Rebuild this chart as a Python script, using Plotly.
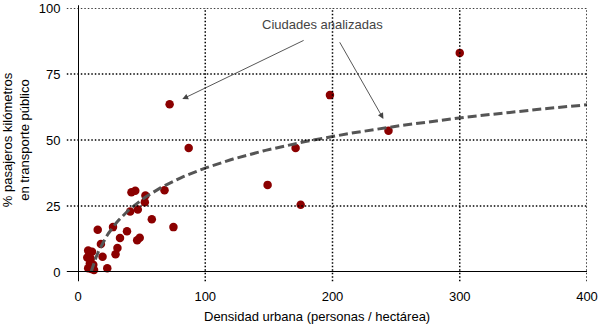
import numpy as np
import plotly.graph_objects as go

# Urban density (persons / hectare) and share of passenger-km on public transport (%)
density = [300, 198, 72, 244, 87, 171, 149, 175,
           42, 45, 53, 68, 52.5, 47, 41, 58, 75, 27.5, 15.5, 38.5,
           33, 48.5, 46.5, 18, 31, 29.5, 8, 11, 7.3, 10, 19.3,
           9.3, 12, 10.5, 12.6, 8, 23]
transit_share = [83, 67, 63.5, 53.5, 47, 47, 33, 25.5,
                 30.2, 30.8, 29, 31, 26.4, 23.7, 22.9, 20, 17, 17, 16, 15.4,
                 12.9, 13, 12, 10.6, 9.1, 6.7, 8.1, 7.7, 5.5, 5, 5.8,
                 3.2, 2.7, 1.1, 0.8, 1.4, 1.4]

# Logarithmic trend: y = TREND_SLOPE * ln(x) + TREND_INTERCEPT
TREND_SLOPE = 17.3
TREND_INTERCEPT = -40.3
trend_x = np.linspace(10.3, 400, 200)
trend_y = TREND_SLOPE * np.log(trend_x) + TREND_INTERCEPT

x_ticks = [0, 100, 200, 300, 400]
y_ticks = [0, 25, 50, 75, 100]

annotation_text = "Ciudades analizadas"
annotation_tail = (192, 88)          # where the label sits, in data units
arrow_targets = [(82, 65.5), (240, 58)]
arrow_tails = [(178.5, 88), (205, 87.6)]

FONT = "Liberation Sans, Arial, Helvetica, sans-serif"
GRID_DOTS = "1.5px,2px"

fig = go.Figure()

fig.add_trace(go.Scatter(
    x=density, y=transit_share, mode="markers",
    marker=dict(size=8.5, color="#8b0000", line=dict(width=0)),
    cliponaxis=False, showlegend=False,
))

# trend line drawn over the markers
fig.add_trace(go.Scatter(
    x=trend_x, y=trend_y, mode="lines",
    line=dict(color="#555555", width=3, dash="9px,4px"),
    hoverinfo="skip", showlegend=False,
))

shapes = []
# dotted grid, running a little past the axes toward the tick labels
for yv in y_ticks[1:]:
    shapes.append(dict(type="line", xref="paper", yref="y",
                       x0=-0.022, x1=1, y0=yv, y1=yv,
                       line=dict(color="black", width=1.5, dash=GRID_DOTS)))
for xv in x_ticks[1:]:
    shapes.append(dict(type="line", xref="x", yref="paper",
                       x0=xv, x1=xv, y0=-0.035, y1=1,
                       line=dict(color="black", width=1.5, dash=GRID_DOTS)))
# solid axis lines crossing at the origin
shapes.append(dict(type="line", xref="paper", yref="y",
                   x0=-0.022, x1=1, y0=0, y1=0,
                   line=dict(color="black", width=2)))
shapes.append(dict(type="line", xref="x", yref="paper",
                   x0=0, x1=0, y0=-0.035, y1=1.01,
                   line=dict(color="black", width=2)))

annotations = [dict(
    x=annotation_tail[0], y=annotation_tail[1], xref="x", yref="y",
    text=annotation_text, showarrow=False, yshift=15,
    font=dict(family=FONT, size=13, color="#444444"),
)]
for (tx, ty), (ax, ay) in zip(arrow_targets, arrow_tails):
    annotations.append(dict(
        x=tx, y=ty, xref="x", yref="y", ax=ax, ay=ay, axref="x", ayref="y",
        text="", showarrow=True, arrowhead=2, arrowsize=1.3, arrowwidth=0.9,
        arrowcolor="#444444", standoff=0, startstandoff=0,
    ))
annotations.append(dict(
    x=0.47, y=-0.17, xref="paper", yref="paper", yanchor="middle",
    text="Densidad urbana (personas / hectárea)", showarrow=False,
    font=dict(family=FONT, size=13, color="black"),
))

fig.update_layout(
    width=600, height=324,
    margin=dict(l=78, r=13, t=8, b=52),
    paper_bgcolor="white", plot_bgcolor="white",
    font=dict(family=FONT, size=13, color="black"),
    shapes=shapes, annotations=annotations,
    xaxis=dict(range=[0, 400], tickvals=x_ticks, showgrid=False,
               zeroline=False, showline=False, ticks="outside",
               ticklen=12, tickcolor="rgba(0,0,0,0)", fixedrange=True,
               ticklabeloverflow="allow", automargin=False),
    yaxis=dict(range=[0, 100], tickvals=y_ticks, showgrid=False,
               zeroline=False, showline=False, ticks="outside",
               ticklen=14, tickcolor="rgba(0,0,0,0)", fixedrange=True,
               ticklabeloverflow="allow", automargin=False,
               title=dict(text="% pasajeros kilómetros<br>en transporte público",
                          standoff=6, font=dict(size=13))),
)

fig.write_html("out.html")
